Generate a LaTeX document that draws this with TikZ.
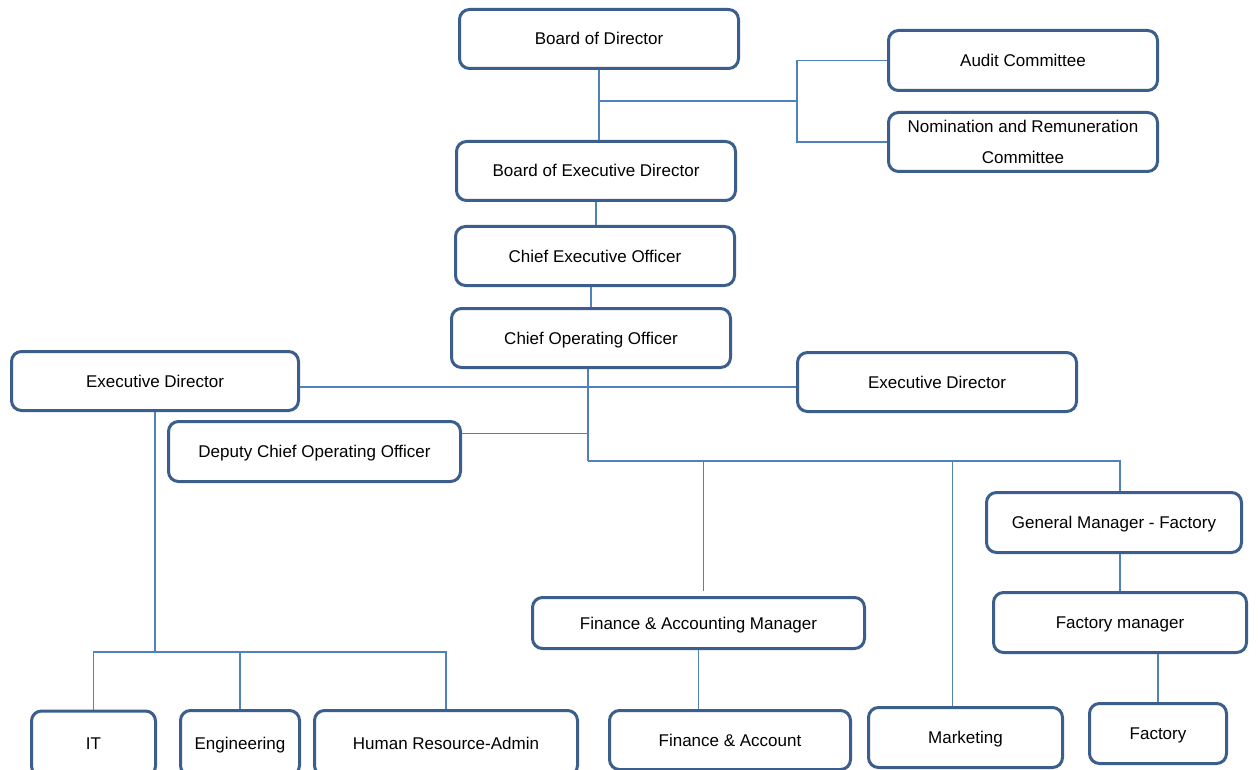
\documentclass[tikz,border=0pt]{standalone}
\usepackage{fontspec}
\setmainfont{Liberation Sans}
\usepackage{tikz}
\usetikzlibrary{positioning}
\definecolor{boxblue}{HTML}{3B5E8C}
\definecolor{lineblue}{HTML}{4F81BD}
\tikzset{x=1pt, y=-1pt, % one unit is one pixel of the chart, y runs downwards
unit/.style={draw=boxblue, line width=3pt, rounded corners=10pt, fill=white, align=center, text height=15pt, text depth=3pt, font=\fontsize{17}{20}\selectfont}, % sets the properties for each box
link/.style={draw=lineblue, line width=1.8pt}, % the lines between the boxes
}
\begin{document}
\begin{tikzpicture}
\useasboundingbox (0,0) rectangle (1258,770);
\clip (0,0) rectangle (1258,770);

\node[unit, minimum width=279, minimum height=59] (bod) at (599,39) {Board of Director};
\node[unit, minimum width=269, minimum height=60] (aud) at (1023,60.5) {Audit Committee};
\node[unit, minimum width=269, minimum height=59, text height=46pt] (nom) at (1023,142) {Nomination and Remuneration\\[11pt]Committee};
\node[unit, minimum width=279, minimum height=59] (bed) at (596,171) {Board of Executive Director};
\node[unit, minimum width=279, minimum height=59] (ceo) at (595,256) {Chief Executive Officer};
\node[unit, minimum width=279, minimum height=59] (coo) at (591,338) {Chief Operating Officer};
\node[unit, minimum width=287, minimum height=59] (edl) at (155,381) {Executive Director};
\node[unit, minimum width=279, minimum height=59] (edr) at (937,382) {Executive Director};
\node[unit, minimum width=292, minimum height=60] (dcoo) at (314.5,451.5) {Deputy Chief Operating Officer};
\node[unit, minimum width=255, minimum height=60] (gmf) at (1114,522.5) {General Manager - Factory};
\node[unit, minimum width=253, minimum height=60] (fm) at (1120,622.5) {Factory manager};
\node[unit, minimum width=332, minimum height=51] (fam) at (698.5,623) {Finance \& Accounting Manager};

\node[unit, minimum width=124, minimum height=65] (it) at (93.5,743.5) {IT};
\node[unit, minimum width=119, minimum height=65] (eng) at (240,743) {Engineering};
\node[unit, minimum width=263, minimum height=65] (hr) at (446,743) {Human Resource-Admin};
\node[unit, minimum width=241, minimum height=59] (fa) at (730,740) {Finance \& Account};
\node[unit, minimum width=194, minimum height=60] (mkt) at (965.5,737.5) {Marketing};
\node[unit, minimum width=137, minimum height=60] (fac) at (1158,733.5) {Factory};

\coordinate (cb) at (797,101);
\coordinate (t) at (588,461);
\coordinate (lb) at (155,652);

% board and committees
\draw[link] (bod.south) -- (bod.south |- bed.north);
\draw[link] (bod.south |- cb) -- (cb);
\draw[link] (aud.west) -| (cb) |- (nom.west);
\draw[link] (bed.south) -- (bed.south |- ceo.north);
\draw[link] (coo.north |- ceo.south) -- (coo.north);

% under the COO
\draw[link] (t |- coo.south) -- (t);
\draw[link] ([yshift=-6pt]edl.east) -- ([yshift=-6pt]edl.east -| edr.west);
\draw[link] ([yshift=18pt]dcoo.east) -- ([yshift=18pt]dcoo.east -| t);
\draw[link] (t) -| ([xshift=6pt]gmf.north);
\draw[link] ([xshift=5pt,yshift=5pt]fam.north) |- (t);
\draw[link] ([xshift=-13pt]mkt.north) |- (t);
\draw[link] (fm.north |- gmf.south) -- (fm.north);
\draw[link] (fac.north |- fm.south) -- (fac.north);
\draw[link] (fam.south) -- (fam.south |- fa.north);

% under the executive director
\draw[link] (edl.south) -- (lb);
\draw[link] (it.north) |- (lb);
\draw[link] (eng.north) -- (eng.north |- lb);
\draw[link] (hr.north) |- (lb);

\end{tikzpicture}
\end{document}
